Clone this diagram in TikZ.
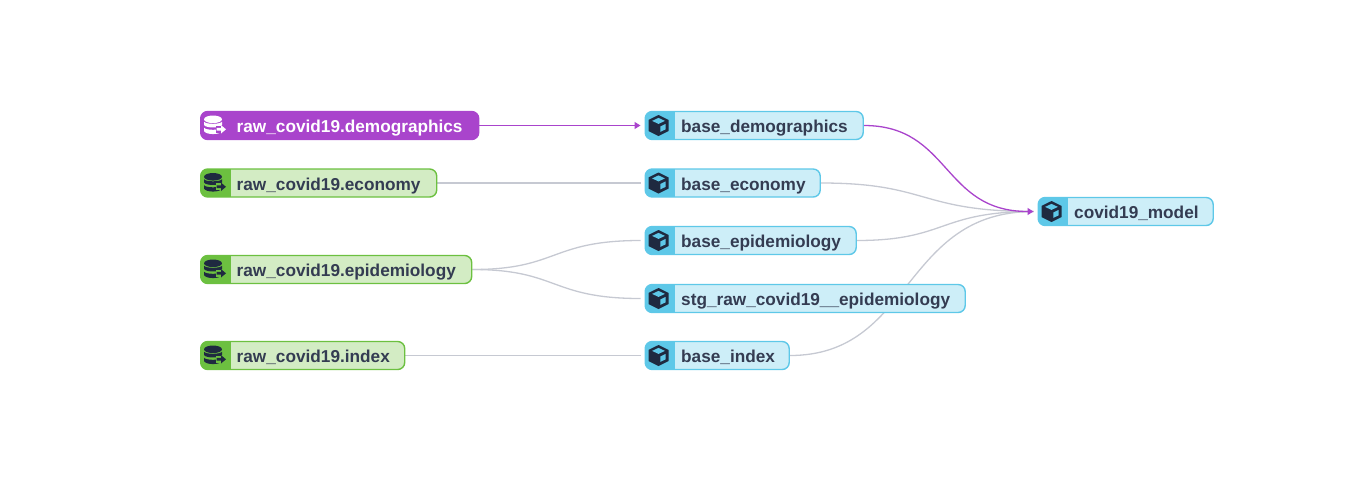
\documentclass[tikz,border=0pt]{standalone}
\usepackage{fontspec}
\setmainfont{Liberation Sans}
\usetikzlibrary{calc,arrows.meta,backgrounds}
\definecolor{txtdark}{HTML}{343C52}
\definecolor{icondark}{HTML}{1F2A40}
\definecolor{edgegrey}{HTML}{C6C9D2}
\definecolor{purp}{HTML}{A944CC}
\definecolor{grnfill}{HTML}{D3ECC4}
\definecolor{grnline}{HTML}{6CC040}
\definecolor{cyanfill}{HTML}{CDEEF8}
\definecolor{cyanline}{HTML}{5EC8E8}
\newcommand{\dbglyph}[2]{%
  \fill[#1] (-1,-6.2) ellipse [x radius=9, y radius=3.8];
  \fill[#1] (-10,-3.8) .. controls (-8,-1) and (6,-1) .. (8,-3.8) -- (8,-0.5) .. controls (6,2.8) and (-8,2.8) .. (-10,-0.5) -- cycle;
  \fill[#1] (-10,2.2) .. controls (-8,5) and (6,5) .. (8,2.2) -- (8,5.5) .. controls (6,9.6) and (-8,9.6) .. (-10,5.5) -- cycle;
  \fill[#2] (2,0.2) rectangle (13,7.4);
  \fill[#1] (2.5,2.4) -- (7,2.4) -- (7,-0.4) -- (12,3.8) -- (7,8) -- (7,5.2) -- (2.5,5.2) -- cycle;
}
\newcommand{\cubeglyph}[2]{%
  \fill[#1] (0,-10.5) -- (10,-5.6) -- (10,5.6) -- (0,10.5) -- (-10,5.6) -- (-10,-5.6) -- cycle;
  \fill[#2] (0,-7.6) -- (6.4,-4.6) -- (0,-1.6) -- (-6.4,-4.6) -- cycle;
  \fill[#2] (1.8,1) -- (7.2,-1.6) -- (7.2,3.8) -- (1.8,6.4) -- cycle;
}
\tikzset{
  dbtbox/.style n args={4}{draw=#2, fill=#1, line width=1.4pt, rounded corners=7pt,
    minimum height=28pt, inner ysep=0pt, inner xsep=0pt, text width=#4, minimum width=#4, align=left,
    anchor=west, font=\bfseries\fontsize{17.22pt}{20pt}\selectfont, text=#3,
    path picture={
      \begin{scope}[sharp corners]
      \fill[#2] (path picture bounding box.north west) rectangle ([xshift=30pt]path picture bounding box.south west);
      \end{scope}
    }},
  srcbox/.style={dbtbox={grnfill}{grnline}{txtdark}{#1}},
  srchi/.style={dbtbox={purp}{purp}{white}{#1}},
  modelbox/.style={dbtbox={cyanfill}{cyanline}{txtdark}{#1}},
  link/.style={draw=edgegrey, line width=1.3pt, shorten >=4pt},
  linkhi/.style={draw=purp, line width=1.3pt, shorten >=4pt, -{Triangle[length=6pt,width=7pt]}}
}
\newcommand{\lbl}[1]{\hspace*{36pt}\rule[-2pt]{0pt}{18pt}\smash{#1}}
\newcommand{\curve}[3]{\coordinate (midA) at ($(#2.east)!0.5!(#3.west)$);
  \coordinate (midB) at ($(#2.east)!0.45!(#3.west)$);
  \draw[#1] (#2.east) .. controls (midA |- #2.east) and (midB |- #3.west) .. (#3.west);}
\begin{document}
\begin{tikzpicture}[x=1pt,y=-1pt]
\useasboundingbox (0,0) rectangle (1368,488);
\node[srchi=278pt] (rd) at (200,125.5) {\lbl{raw\_covid19.demographics}};
\node[srcbox=236pt] (re) at (200,183) {\lbl{raw\_covid19.economy}};
\node[srcbox=271pt] (rp) at (200,269.5) {\lbl{raw\_covid19.epidemiology}};
\node[srcbox=204pt] (ri) at (200,355.5) {\lbl{raw\_covid19.index}};
\node[modelbox=218pt] (bd) at (644.5,125.5) {\lbl{base\_demographics}};
\node[modelbox=175pt] (be) at (644.5,183) {\lbl{base\_economy}};
\node[modelbox=211pt] (bp) at (644.5,240.5) {\lbl{base\_epidemiology}};
\node[modelbox=320pt] (st) at (644.5,298.5) {\lbl{stg\_raw\_covid19\_\_epidemiology}};
\node[modelbox=144pt] (bi) at (644.5,355.5) {\lbl{base\_index}};
\node[modelbox=175pt] (cm) at (1037.5,211.5) {\lbl{covid19\_model}};
\begin{scope}[shift={($(rd.west)+(14,0)$)}] \dbglyph{white}{purp} \end{scope}
\foreach \n in {re,rp,ri} {
  \begin{scope}[shift={($(\n.west)+(14,0)$)}] \dbglyph{icondark}{grnline} \end{scope}
}
\foreach \n in {bd,be,bp,st,bi,cm} {
  \begin{scope}[shift={($(\n.west)+(14,0)$)}] \cubeglyph{icondark}{cyanline} \end{scope}
}
\begin{scope}[on background layer]
\draw[link] (re.east) -- (be.west);
\draw[link] (ri.east) -- (bi.west);
\curve{link}{rp}{bp}
\curve{link}{rp}{st}
\curve{link}{be}{cm}
\curve{link}{bp}{cm}
\curve{link}{bi}{cm}
\draw[linkhi] (rd.east) -- (bd.west);
\curve{linkhi}{bd}{cm}
\end{scope}
\end{tikzpicture}
\end{document}
